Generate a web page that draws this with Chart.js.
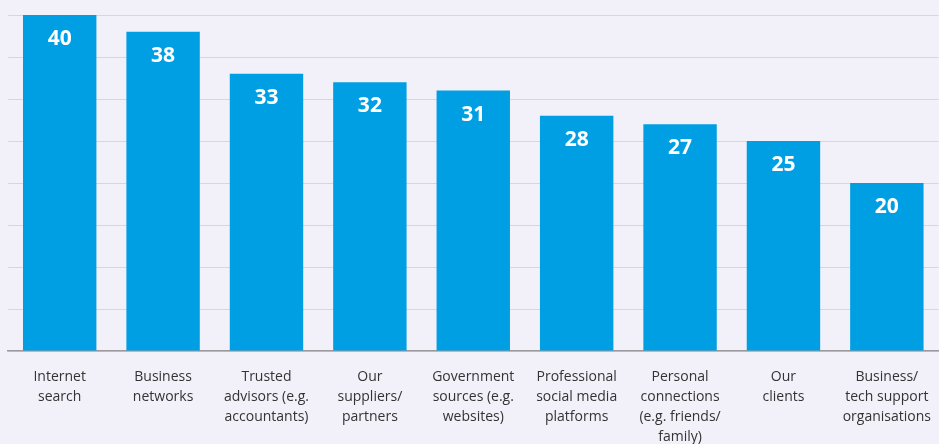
<!DOCTYPE html>
<html>
<head>
<meta charset="utf-8">
<script src="https://cdn.jsdelivr.net/npm/chart.js@4"></script>
<style>
  html, body { margin: 0; padding: 0; background: #f2f0f9; }
  #wrap { width: 939px; height: 444px; position: relative; }
</style>
</head>
<body>
<div id="wrap"><canvas id="chart"></canvas></div>
<script>
// categories (multi-line labels)
const categories = [
  ['Internet', 'search'],
  ['Business', 'networks'],
  ['Trusted', 'advisors (e.g.', 'accountants)'],
  ['Our', 'suppliers/', 'partners'],
  ['Government', 'sources (e.g.', 'websites)'],
  ['Professional', 'social media', 'platforms'],
  ['Personal', 'connections', '(e.g. friends/', 'family)'],
  ['Our', 'clients'],
  ['Business/', 'tech support', 'organisations']
];
const values = [40, 38, 33, 32, 31, 28, 27, 25, 20];

const barColor = '#009fe3';
const textColor = '#333333';

// value labels inside the top of each bar
const valueLabels = {
  id: 'valueLabels',
  afterDatasetsDraw(chart) {
    const ctx = chart.ctx;
    const meta = chart.getDatasetMeta(0);
    ctx.save();
    ctx.fillStyle = '#ffffff';
    ctx.font = "bold 21px 'Open Sans', sans-serif";
    ctx.textAlign = 'center';
    ctx.textBaseline = 'middle';
    meta.data.forEach((bar, i) => {
      ctx.fillText(String(values[i]), bar.x, bar.y + 24);
    });
    ctx.restore();
  }
};

new Chart(document.getElementById('chart'), {
  type: 'bar',
  data: {
    labels: categories,
    datasets: [{
      data: values,
      backgroundColor: barColor,
      borderWidth: 0,
      barPercentage: 0.71,
      categoryPercentage: 1
    }]
  },
  options: {
    responsive: true,
    maintainAspectRatio: false,
    animation: false,
    layout: { padding: { top: 15, left: 8, right: 0, bottom: 0 } },
    plugins: {
      legend: { display: false },
      tooltip: { enabled: false }
    },
    scales: {
      x: {
        grid: { display: false },
        border: { display: true, color: '#9c9a9f', width: 1.5 },
        ticks: {
          color: textColor,
          font: { family: "'Open Sans', sans-serif", size: 14, lineHeight: 1.43 },
          padding: 8,
          maxRotation: 0,
          autoSkip: false
        },
        // fixed height for the label band under the axis
        afterFit(scale) { scale.height = 93; }
      },
      y: {
        min: 0,
        max: 40,
        ticks: { stepSize: 5, display: false },
        grid: { color: '#d9d5de', drawTicks: false },
        border: { display: false }
      }
    }
  },
  plugins: [valueLabels]
});
</script>
</body>
</html>
